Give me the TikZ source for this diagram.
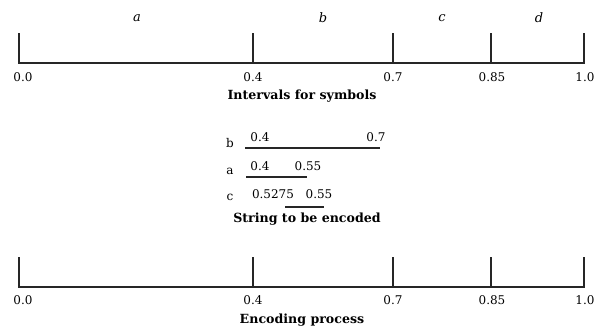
\documentclass[tikz,border=0pt]{standalone}
\usepackage{fontspec}
\setmainfont{DejaVu Serif}
\begin{document}
\begin{tikzpicture}[x=1pt,y=-1pt,
  axis/.style={line width=1.3pt,draw=black!85},
  seg/.style={line width=1.1pt,draw=black!85},
  num/.style={font=\fontsize{12}{12}\selectfont,inner sep=0pt},
  sym/.style={font=\fontsize{13}{13}\selectfont\itshape,inner sep=0pt},
  caption/.style={font=\fontsize{12.6}{12.6}\selectfont\bfseries,inner sep=0pt}]
\useasboundingbox (0,0) rectangle (600,327);

% upper scale: intervals for symbols
\foreach \n/\x in {t0/19,t4/253,t7/393,t85/491,t10/584}{
  \coordinate (\n) at (\x,63);
  \coordinate (\n-top) at (\x,33);
}
\draw[axis] (t0-top) -- (t0) -- (t10) -- (t10-top);
\foreach \n in {t4,t7,t85}{\draw[axis] (\n-top) -- (\n);}
\node[num] (l0) at (23,77) {0.0};
\node[num] (l4) at (253,77) {0.4};
\node[num] (l7) at (393,77) {0.7};
\node[num] (l85) at (492,77) {0.85};
\node[num] (l10) at (585,77) {1.0};
\node[sym] (sa) at (137,18) {a};
\node[sym] (sb) at (323,18) {b};
\node[sym] (sc) at (442,18) {c};
\node[sym] (sd) at (539,18) {d};
\node[caption] (cap1) at (302,96) {Intervals for symbols};

% string to be encoded
\node[num] (cb) at (230,143) {b};
\coordinate (b1) at (245,148); \coordinate (b2) at (380,148);
\draw[seg] (b1) -- (b2);
\node[num] (b1l) at (260,137) {0.4};
\node[num] (b2l) at (376,137) {0.7};

\node[num] (ca) at (230,171) {a};
\coordinate (a1) at (246,177); \coordinate (a2) at (307,177);
\draw[seg] (a1) -- (a2);
\node[num] (a1l) at (260,166) {0.4};
\node[num] (a2l) at (308,166) {0.55};

\node[num] (cc) at (230,197) {c};
\coordinate (c1) at (285,207); \coordinate (c2) at (324,207);
\draw[seg] (c1) -- (c2);
\node[num] (c1l) at (273,194) {0.5275};
\node[num] (c2l) at (319,194) {0.55};
\node[caption] (cap2) at (307,219) {String to be encoded};

% lower scale: encoding process
\foreach \n/\x in {u0/19,u4/253,u7/393,u85/491,u10/584}{
  \coordinate (\n) at (\x,287);
  \coordinate (\n-top) at (\x,257);
}
\draw[axis] (u0-top) -- (u0) -- (u10) -- (u10-top);
\foreach \n in {u4,u7,u85}{\draw[axis] (\n-top) -- (\n);}
\node[num] (m0) at (23,300) {0.0};
\node[num] (m4) at (253,300) {0.4};
\node[num] (m7) at (393,300) {0.7};
\node[num] (m85) at (492,300) {0.85};
\node[num] (m10) at (585,300) {1.0};
\node[caption] (cap3) at (302,320) {Encoding process};
\end{tikzpicture}
\end{document}
